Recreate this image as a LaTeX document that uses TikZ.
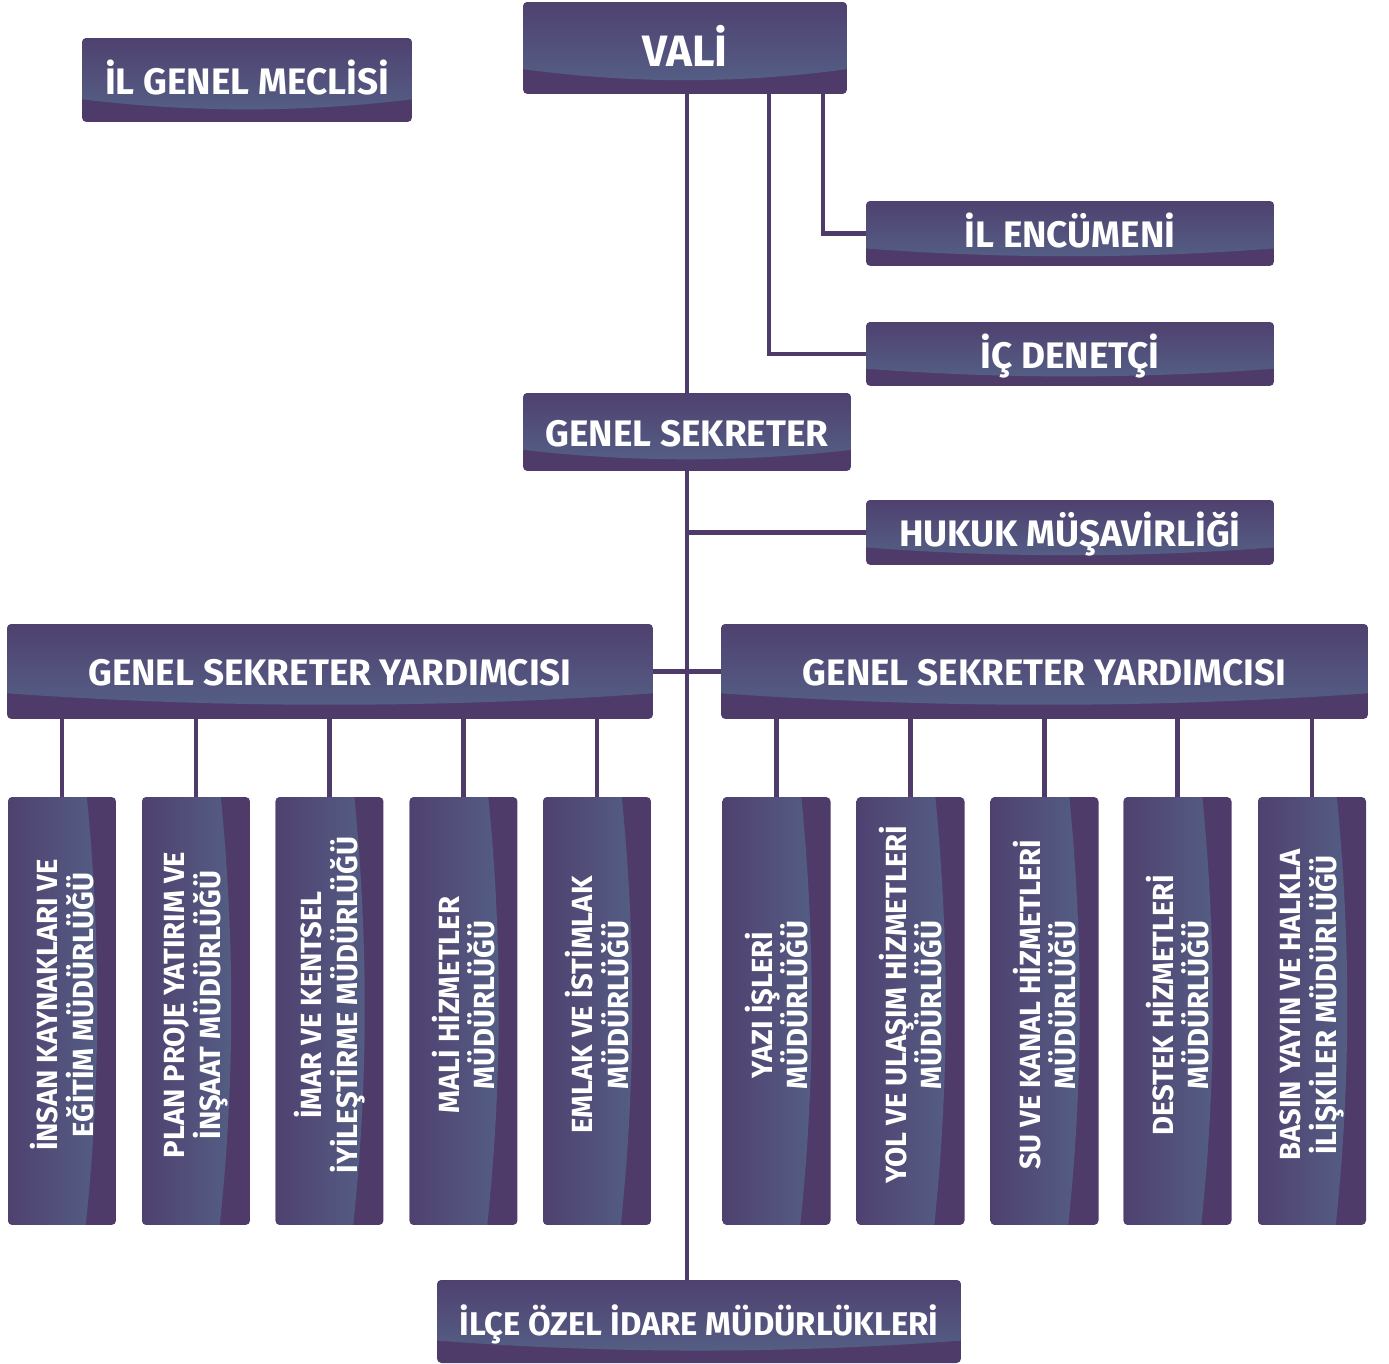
\documentclass[tikz,border=0pt]{standalone}
\usepackage{fontspec}
\setmainfont{Fira Sans}
\usetikzlibrary{calc}

\definecolor{bandcol}{HTML}{4E3B69}
\definecolor{topcol}{HTML}{4F416F}
\definecolor{lowcol}{HTML}{556389}
\definecolor{linecol}{HTML}{4E3B69}

\tikzset{
    unitbox/.style={fill=bandcol, rounded corners=2.5pt, inner sep=0pt, text=white},
    % box with the light part on top
    hbox/.style={unitbox, font=\bfseries\fontsize{21}{25}\selectfont,
        text height=16.5pt, text depth=0pt,
        path picture={
            \shade[sharp corners, top color=topcol, bottom color=lowcol]
                let \p1=(path picture bounding box.north west),
                    \p2=(path picture bounding box.south east) in
                (\x1,\y1) -- (\x2,\y1) -- (\x2,{\y1+0.73*(\y2-\y1)})
                .. controls ({\x1+0.667*(\x2-\x1)},{\y1+0.89*(\y2-\y1)})
                and ({\x1+0.333*(\x2-\x1)},{\y1+0.89*(\y2-\y1)})
                .. (\x1,{\y1+0.73*(\y2-\y1)}) -- cycle;
        }},
    % box with the light part on the left
    vbox/.style={unitbox, minimum width=2.16cm, minimum height=8.56cm,
        path picture={
            \shade[sharp corners, left color=topcol, right color=lowcol]
                let \p1=(path picture bounding box.north west),
                    \p2=(path picture bounding box.south east) in
                (\x1,\y1) -- ({\x1+0.73*(\x2-\x1)},\y1)
                .. controls ({\x1+0.86*(\x2-\x1)},{\y1+0.333*(\y2-\y1)})
                and ({\x1+0.86*(\x2-\x1)},{\y1+0.667*(\y2-\y1)})
                .. ({\x1+0.72*(\x2-\x1)},\y2) -- (\x1,\y2) -- cycle;
        }},
    vtext/.style={rotate=90, align=center, text=white, inner sep=0pt,
        font=\bfseries\fontsize{16.6}{20.4}\selectfont},
    link/.style={draw=linecol, line width=2.3pt}
}

\begin{document}
\begin{tikzpicture}[x=0.02cm, y=-0.02cm]

    % Fix the page size
    \useasboundingbox (0,0) rectangle (1389,1364);

    % Top of the chart
    \node[hbox, minimum width=6.48cm, minimum height=1.84cm,
        font=\bfseries\fontsize{25}{29}\selectfont, text height=20.6pt] (vali) at (685,48) {VALİ};
    \node[hbox, minimum width=6.6cm, minimum height=1.68cm] (meclis) at (247,80) {İL GENEL MECLİSİ};
    \node[hbox, minimum width=8.16cm, minimum height=1.3cm] (encumen) at (1070,233.5) {İL ENCÜMENİ};
    \node[hbox, minimum width=8.16cm, minimum height=1.28cm] (denetci) at (1070,354) {İÇ DENETÇİ};

    % Secretary and legal advice
    \node[hbox, minimum width=6.56cm, minimum height=1.56cm] (gs) at (687,432) {GENEL SEKRETER};
    \node[hbox, minimum width=8.16cm, minimum height=1.3cm] (hukuk) at (1070,532.5) {HUKUK MÜŞAVİRLİĞİ};

    % The two deputies
    \node[hbox, minimum width=12.92cm, minimum height=1.9cm] (gsyL) at (330,671.5) {GENEL SEKRETER YARDIMCISI};
    \node[hbox, minimum width=12.94cm, minimum height=1.9cm] (gsyR) at (1044.5,671.5) {GENEL SEKRETER YARDIMCISI};

    % District offices at the bottom
    \node[hbox, minimum width=10.48cm, minimum height=1.66cm,
        font=\bfseries\fontsize{18.7}{22}\selectfont, text height=16pt] (ilce) at (699,1321.5) {İLÇE ÖZEL İDARE MÜDÜRLÜKLERİ};

    % Directorates under the left deputy
    \node[vbox] (b1) at (62,1011) {};
    \node[vbox] (b2) at (196,1011) {};
    \node[vbox] (b3) at (329.5,1011) {};
    \node[vbox] (b4) at (463.5,1011) {};
    \node[vbox] (b5) at (597,1011) {};

    % Directorates under the right deputy
    \node[vbox] (b6) at (776.5,1011) {};
    \node[vbox] (b7) at (910.5,1011) {};
    \node[vbox] (b8) at (1044.5,1011) {};
    \node[vbox] (b9) at (1177.5,1011) {};
    \node[vbox] (b10) at (1312,1011) {};

    % Names of the directorates
    \node[vtext] (t1) at ([yshift=0.12cm]b1.center) {İNSAN KAYNAKLARI VE\\EĞİTİM MÜDÜRLÜĞÜ};
    \node[vtext] (t2) at ([yshift=0.12cm]b2.center) {PLAN PROJE YATIRIM VE\\İNŞAAT MÜDÜRLÜĞÜ};
    \node[vtext] (t3) at ([yshift=0.12cm]b3.center) {İMAR VE KENTSEL\\İYİLEŞTİRME MÜDÜRLÜĞÜ};
    \node[vtext] (t4) at ([yshift=0.12cm]b4.center) {MALİ HİZMETLER\\MÜDÜRLÜĞÜ};
    \node[vtext] (t5) at ([yshift=0.12cm]b5.center) {EMLAK VE İSTİMLAK\\MÜDÜRLÜĞÜ};
    \node[vtext] (t6) at ([yshift=0.12cm]b6.center) {YAZI İŞLERİ\\MÜDÜRLÜĞÜ};
    \node[vtext] (t7) at ([yshift=0.12cm]b7.center) {YOL VE ULAŞIM HİZMETLERİ\\MÜDÜRLÜĞÜ};
    \node[vtext] (t8) at ([yshift=0.12cm]b8.center) {SU VE KANAL HİZMETLERİ\\MÜDÜRLÜĞÜ};
    \node[vtext] (t9) at ([yshift=0.12cm]b9.center) {DESTEK HİZMETLERİ\\MÜDÜRLÜĞÜ};
    \node[vtext] (t10) at ([yshift=0.12cm]b10.center) {BASIN YAYIN VE HALKLA\\İLİŞKİLER MÜDÜRLÜĞÜ};

    % Main line down the middle
    \draw[link] (vali.south -| gs) -- (gs.north);
    \draw[link] (gs.south) -- (ilce.north -| gs);

    % Branches from the governor
    \draw[link] ([xshift=-0.48cm]vali.south east) |- (encumen.west);
    \draw[link] ([xshift=-1.56cm]vali.south east) |- (denetci.west);

    % Legal advice and deputies
    \draw[link] (hukuk.west) -- (hukuk.west -| gs);
    \draw[link] (gsyL.east) -- (gsyR.west);

    % Deputies to directorates
    \draw[link] (b1.north) -- (b1.north |- gsyL.south);
    \draw[link] (b2.north) -- (b2.north |- gsyL.south);
    \draw[link] (b3.north) -- (b3.north |- gsyL.south);
    \draw[link] (b4.north) -- (b4.north |- gsyL.south);
    \draw[link] (b5.north) -- (b5.north |- gsyL.south);
    \draw[link] (b6.north) -- (b6.north |- gsyR.south);
    \draw[link] (b7.north) -- (b7.north |- gsyR.south);
    \draw[link] (b8.north) -- (b8.north |- gsyR.south);
    \draw[link] (b9.north) -- (b9.north |- gsyR.south);
    \draw[link] (b10.north) -- (b10.north |- gsyR.south);

\end{tikzpicture}
\end{document}
